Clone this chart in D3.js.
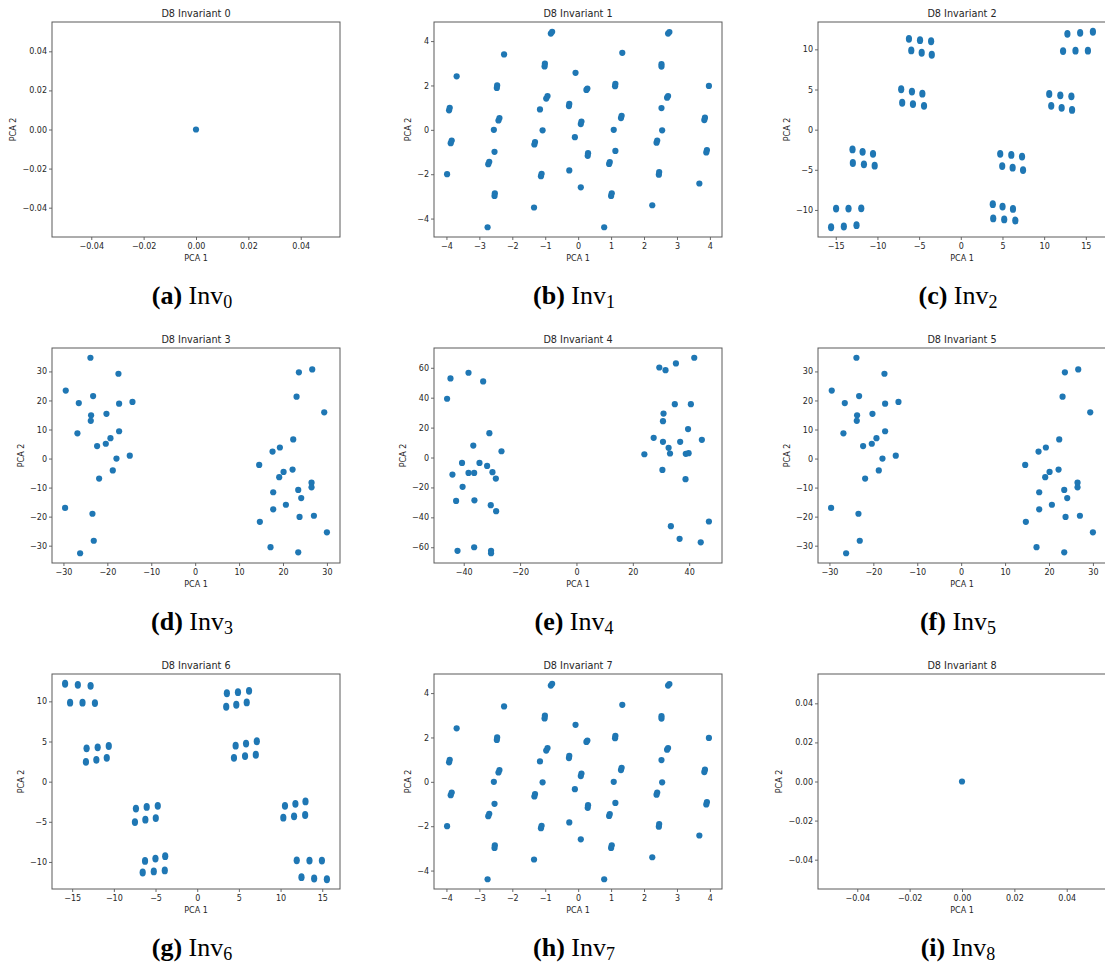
<!DOCTYPE html>
<html>
<head>
<meta charset="utf-8">
<script src="https://cdn.jsdelivr.net/npm/d3@7"></script>
<style>
  body { margin: 0; background: #fff; }
  svg { display: block; }
</style>
</head>
<body>
<svg id="chart" width="1105" height="966"></svg>
<script>
// ---------------- DATA ----------------
const titles = ["D8 Invariant 0","D8 Invariant 1","D8 Invariant 2","D8 Invariant 3","D8 Invariant 4","D8 Invariant 5","D8 Invariant 6","D8 Invariant 7","D8 Invariant 8"];
const captionLetters = ["(a)","(b)","(c)","(d)","(e)","(f)","(g)","(h)","(i)"];
const captionSubs = ["0","1","2","3","4","5","6","7","8"];

const inv0X = [0];
const inv0Y = [0];

const inv1X = [-0.83,-0.79, 2.73,2.77, -2.25, 1.34, -3.69, -1.02,-1.01, 2.53,2.53, -0.08,
  -2.47,-2.46, 1.12,1.13, 3.97, 0.25,0.28, -0.97,-0.93, 2.70,2.73, -3.92,-3.90, -1.16,
  -0.28,-0.27, 2.53, -2.42,-2.39, 1.30,1.32, 3.83,3.85, 0.08,0.10, -2.56, -1.08, 1.08, 2.55,
  -3.87,-3.84, -1.33,-1.31, -0.10, 2.38,2.40, -2.54, 0.29,0.30, 1.13, 3.89,3.91,
  -2.73,-2.70, 0.94,0.96, -3.98, -1.13,-1.11, -0.27, 2.45,2.46, -2.54,-2.53, 0.08,
  1.00,1.02, 3.68, -1.34, 2.25, -2.75, 0.79];
const inv1Y = [4.34,4.42, 4.34,4.41, 3.40, 3.47, 2.41, 2.86,2.98, 2.85,2.96, 2.57,
  1.89,2.00, 1.97,2.07, 1.98, 1.80,1.86, 1.41,1.52, 1.45,1.52, 0.88,0.99, 0.92,
  1.07,1.17, 0.98, 0.42,0.53, 0.53,0.63, 0.44,0.55, 0.26,0.37, 0.00, -0.02, 0.00, -0.02,
  -0.60,-0.48, -0.66,-0.55, -0.33, -0.58,-0.48, -0.99, -1.17,-1.05, -0.95, -1.02,-0.91,
  -1.55,-1.44, -1.54,-1.45, -2.00, -2.09,-1.98, -1.83, -2.02,-1.90, -2.98,-2.86, -2.59,
  -2.98,-2.86, -2.42, -3.50, -3.40, -4.39, -4.39];

const inv2X = [-6.22,-4.89,-3.56,-5.94,-4.69,-3.48,
  12.79,14.32,15.85,12.27,13.76,15.25,
  -7.15,-5.86,-4.61,-7.03,-5.74,-4.41,
  10.61,11.94,13.27,10.85,12.10,13.35,
  -12.99,-11.78,-10.53,-12.95,-11.62,-10.33,
  4.73,6.06,7.35,4.97,6.22,7.47,
  -14.96,-13.47,-11.94,-15.56,-14.03,-12.51,
  3.84,5.01,6.26,3.89,5.21,6.54];
const inv2Y = [11.31,11.14,11.01,9.87,9.58,9.33,
  11.94,12.06,12.19,9.79,9.83,9.83,
  5.03,4.74,4.48,3.35,3.18,2.97,
  4.44,4.27,4.15,2.97,2.72,2.46,
  -2.46,-2.76,-3.01,-4.15,-4.32,-4.48,
  -3.01,-3.14,-3.35,-4.53,-4.74,-5.03,
  -9.83,-9.83,-9.79,-12.15,-12.06,-11.89,
  -9.28,-9.58,-9.87,-11.05,-11.18,-11.31];

const inv3X = [-23.85,-17.47,-29.47,-23.24,-26.5,-17.32,-14.28,-23.7,-20.2,-23.77,-26.81,-17.32,
  -19.29,-20.35,-22.33,-17.92,-14.89,-18.76,-21.87,-29.62,-23.39,-23.09,-26.2,
  26.66,23.62,23.09,29.39,22.33,19.29,17.62,14.58,22.18,20.13,19.14,26.5,26.5,23.47,
  24.15,17.77,20.66,17.77,23.77,27.04,14.73,30.0,17.16,23.47];
const inv3Y = [34.7,29.2,23.4,21.5,19.1,18.9,19.5,14.9,15.4,13.0,8.7,9.4,
  7.0,5.1,4.3,0.0,1.0,-4.1,-6.9,-17.0,-19.0,-28.3,-32.6,
  30.7,29.7,21.3,15.9,6.6,3.8,2.4,-2.2,-3.8,-4.6,-6.4,-8.3,-9.9,-10.8,
  -13.6,-11.6,-15.9,-17.5,-20.1,-19.7,-21.8,-25.4,-30.5,-32.3];

const inv4X = [-44.7,-38.3,-33.1,-45.9,-30.9,-36.6,-26.6,-40.6,-34.4,-31.7,-38.3,-36.3,
  -29.8,-44.0,-28.6,-40.4,-42.7,-36.2,-30.4,-28.5,-42.2,-36.3,-30.3,-30.3,
  41.8,35.3,29.4,31.6,34.9,40.6,30.9,30.7,39.6,27.4,30.7,36.8,44.5,32.7,33.2,24.1,
  38.8,39.8,30.5,38.7,33.5,47.0,36.6,44.1];
const inv4Y = [52.9,56.7,50.9,39.3,16.3,8.0,4.2,-3.6,-3.6,-5.6,-10.3,-10.3,
  -9.8,-11.4,-14.1,-19.6,-29.0,-28.6,-31.9,-35.9,-62.4,-60.0,-62.4,-64.0,
  66.7,62.9,60.2,58.4,35.7,35.7,29.4,24.3,19.0,13.2,10.5,10.5,11.8,6.5,2.7,2.2,
  2.5,2.9,-8.3,-14.5,-45.9,-42.8,-54.4,-56.7];

const inv5X = inv3X.slice();
const inv5Y = inv3Y.slice();

const inv6X = [6.22,4.89,3.56,5.94,4.69,3.48,
  -12.79,-14.32,-15.85,-12.27,-13.76,-15.25,
  7.15,5.86,4.61,7.03,5.74,4.41,
  -10.61,-11.94,-13.27,-10.85,-12.10,-13.35,
  12.99,11.78,10.53,12.95,11.62,10.33,
  -4.73,-6.06,-7.35,-4.97,-6.22,-7.47,
  14.96,13.47,11.94,15.56,14.03,12.51,
  -3.84,-5.01,-6.26,-3.89,-5.21,-6.54];
const inv6Y = inv2Y.slice();

const inv7X = inv1X.slice();
const inv7Y = inv1Y.slice();

const inv8X = [0];
const inv8Y = [0];

const tinyTicks = [-0.04,-0.02,0,0.02,0.04];
const tinyDomain = [-0.055, 0.055];
const ticks1X = [-4,-3,-2,-1,0,1,2,3,4];
const ticks1Y = [-4,-2,0,2,4];
const ticks2X = [-15,-10,-5,0,5,10,15];
const ticks2Y = [-10,-5,0,5,10];
const ticks3X = [-30,-20,-10,0,10,20,30];
const ticks3Y = [-30,-20,-10,0,10,20,30];
const ticks4X = [-40,-20,0,20,40];
const ticks4Y = [-60,-40,-20,0,20,40,60];

// ---------------- LAYOUT ----------------
const colLeft = [52, 434, 818];
const rowTop = [22, 348, 674];
const W = 288, H = 215;
const dotColor = "#1f77b4";

const panels = [
  {xs: inv0X, ys: inv0Y, xt: tinyTicks, yt: tinyTicks, xd: tinyDomain, yd: tinyDomain, fmt: ".2f"},
  {xs: inv1X, ys: inv1Y, xt: ticks1X, yt: ticks1Y},
  {xs: inv2X, ys: inv2Y, xt: ticks2X, yt: ticks2Y, ry: 3.9},
  {xs: inv3X, ys: inv3Y, xt: ticks3X, yt: ticks3Y},
  {xs: inv4X, ys: inv4Y, xt: ticks4X, yt: ticks4Y},
  {xs: inv5X, ys: inv5Y, xt: ticks3X, yt: ticks3Y},
  {xs: inv6X, ys: inv6Y, xt: ticks2X, yt: ticks2Y, ry: 3.9},
  {xs: inv7X, ys: inv7Y, xt: ticks1X, yt: ticks1Y},
  {xs: inv8X, ys: inv8Y, xt: tinyTicks, yt: tinyTicks, xd: tinyDomain, yd: tinyDomain, fmt: ".2f"}
];

function padded(arr) {
  const [a, b] = d3.extent(arr);
  const p = (b - a) * 0.05;
  return [a - p, b + p];
}

const svg = d3.select("#chart");
const sans = "DejaVu Sans, sans-serif";

panels.forEach((p, i) => {
  const left = colLeft[i % 3], top = rowTop[Math.floor(i / 3)];
  const x = d3.scaleLinear().domain(p.xd || padded(p.xs)).range([0, W]);
  const y = d3.scaleLinear().domain(p.yd || padded(p.ys)).range([H, 0]);
  const fmt = d3.format(p.fmt || "d");
  const g = svg.append("g").attr("transform", `translate(${left},${top})`);

  // points
  g.append("g").selectAll("ellipse")
    .data(p.xs.map((v, k) => [v, p.ys[k]]))
    .join("ellipse")
    .attr("cx", d => x(d[0]))
    .attr("cy", d => y(d[1]))
    .attr("rx", 3.1)
    .attr("ry", p.ry || 3.1)
    .attr("fill", dotColor);

  // axes
  const xa = g.append("g").attr("transform", `translate(0,${H})`)
    .call(d3.axisBottom(x).tickValues(p.xt).tickFormat(fmt).tickSize(3).tickPadding(3.5).tickSizeOuter(0));
  const ya = g.append("g")
    .call(d3.axisLeft(y).tickValues(p.yt).tickFormat(fmt).tickSize(3).tickPadding(2).tickSizeOuter(0));
  [xa, ya].forEach(a => {
    a.select(".domain").remove();
    a.selectAll("line").attr("stroke", "#444").attr("stroke-width", 0.8);
    a.selectAll("text").attr("font-family", sans).attr("font-size", 8).attr("fill", "#262626");
  });

  // frame
  g.append("rect").attr("x", 0).attr("y", 0).attr("width", W).attr("height", H)
    .attr("fill", "none").attr("stroke", "#5a5a5a").attr("stroke-width", 1);

  // title
  g.append("text").attr("x", W / 2).attr("y", -5).attr("text-anchor", "middle")
    .attr("font-family", sans).attr("font-size", 9.7).attr("fill", "#262626")
    .text(titles[i]);

  // axis labels
  g.append("text").attr("x", W / 2).attr("y", H + 23.6).attr("text-anchor", "middle")
    .attr("font-family", sans).attr("font-size", 8).attr("fill", "#262626").text("PCA 1");
  const bb = ya.node().getBBox();
  g.append("text").attr("transform", `translate(${bb.x - 6},${H / 2}) rotate(-90)`)
    .attr("text-anchor", "middle")
    .attr("font-family", sans).attr("font-size", 8).attr("fill", "#262626").text("PCA 2");

  // caption
  const cap = g.append("text").attr("x", W / 2 - 4).attr("y", 282).attr("text-anchor", "middle")
    .attr("font-family", "Liberation Serif, serif").attr("font-size", 26).attr("fill", "#000");
  cap.append("tspan").attr("font-weight", "bold").text(captionLetters[i]);
  cap.append("tspan").text(" Inv");
  cap.append("tspan").attr("font-size", 18).attr("dy", 4).text(captionSubs[i]);
});
</script>
</body>
</html>
